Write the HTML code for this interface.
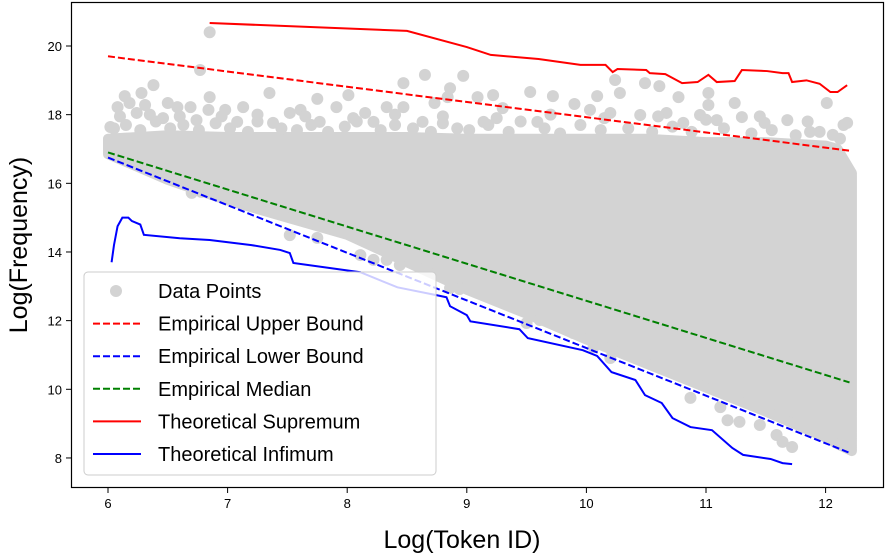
<!DOCTYPE html>
<html><head><meta charset="utf-8"><style>
body{margin:0;background:#fff;}
svg{display:block;font-family:"Liberation Sans",sans-serif;}
</style></head><body>
<svg id="chart" width="888" height="556">
<g id="plot"></g>
</svg>
<script>
const xTicks=[6,7,8,9,10,11,12];
const yTicks=[8,10,12,14,16,18,20];
// dense cloud envelope
const denseX=[6,6.5,7,7.5,8,8.5,9,9.5,10,10.5,11,11.5,12,12.1,12.22];
const denseTop=[17.3,17.4,17.35,17.35,17.35,17.35,17.3,17.3,17.3,17.3,17.2,17.2,17.1,17.0,16.3];
const denseBot=[16.85,16.1,15.5,15.0,14.5,13.7,12.9,12.2,11.45,10.75,10.05,9.35,8.6,8.4,8.2];
// outlier points
const outX=[6.85,6.02,6.08,6.14,6.18,6.28,6.31,6.38,6.24,6.5,6.58,6.69,6.77,6.85,6.84,6.98,7.13,7.35,7.52,7.61,7.75,7.91,8.01,8.15,8.33,8.47,8.47,8.65,8.73,8.86,8.97,8.84,9.09,9.22,9.3,9.53,9.72,9.9,9.59,9.14,8.63,8.22,7.77,7.38,7.08,6.74,6.46,
10.24,10.49,10.61,10.28,10.09,10.77,11.02,11.02,10.95,11.09,11.24,11.3,11.49,11.68,12.01,12.18,10.03,10.2,10.45,10.67,10.81,11.87,12.06,
7.52,7.75,8.11,8.22,8.33,8.44,8.86,8.94,9.09,9.28,9.5,9.61,9.89,10.06,10.2,10.87,11.12,11.28,11.45,11.59,11.64,11.72,11.18,6.7,6.78,
6.05,6.15,6.27,6.4,6.52,6.63,6.76,6.9,7.02,7.17,7.25,7.45,7.58,7.7,7.84,7.98,8.08,8.28,8.4,8.55,8.7,8.8,8.92,9.02,9.18,9.35,9.45,9.65,9.78,9.95,10.12,10.35,10.55,10.72,10.88,11.15,11.38,11.55,11.75,11.95,12.12,
6.1,6.35,6.6,6.95,7.25,7.65,8.05,8.4,8.8,9.25,9.7,10.15,10.6,11.0,11.45,11.85,12.15];
const outY=[20.4,17.64,18.22,18.54,18.34,18.63,18.28,18.86,18.05,18.34,18.22,18.22,19.3,18.51,18.14,18.14,18.22,18.63,18.05,18.14,18.46,18.22,18.57,18.05,18.22,18.92,18.22,19.16,18.34,18.77,19.13,18.51,18.51,18.57,18.19,18.66,18.54,18.31,17.79,17.79,17.79,17.79,17.79,17.76,17.79,17.84,17.9,
19.01,18.92,18.83,18.63,18.54,18.51,18.63,18.28,17.99,17.84,18.34,17.93,17.76,17.84,18.34,17.76,18.14,18.05,17.99,18.05,17.76,17.5,17.41,
14.49,14.41,13.91,13.77,13.77,13.62,12.95,12.92,12.81,12.66,11.93,12.02,11.64,11.23,10.91,9.75,9.48,9.05,8.96,8.67,8.47,8.32,9.1,15.72,15.75,
17.6,17.7,17.55,17.8,17.6,17.7,17.55,17.75,17.6,17.5,17.8,17.6,17.55,17.7,17.5,17.65,17.8,17.55,17.7,17.6,17.5,17.75,17.6,17.55,17.7,17.5,17.8,17.6,17.45,17.7,17.55,17.6,17.5,17.65,17.5,17.6,17.45,17.55,17.4,17.5,17.3,
17.95,18.0,17.95,17.95,18.0,17.95,17.9,18.0,17.95,17.9,18.0,17.9,17.95,17.85,17.95,17.8,17.7];
const upX=[6,12.2], upY=[19.7,16.95];
const loX=[6,12.2], loY=[16.75,8.15];
const mdX=[6,12.2], mdY=[16.9,10.2];
const supX=[6.85,8.5,9.0,9.2,9.6,9.95,10.16,10.22,10.26,10.5,10.53,10.66,10.8,10.93,11.02,11.09,11.24,11.3,11.51,11.64,11.69,11.72,11.84,11.95,12.04,12.1,12.18];
const supY=[20.67,20.44,19.97,19.74,19.62,19.45,19.45,19.24,19.33,19.3,19.21,19.18,18.92,18.95,19.16,18.95,18.98,19.3,19.27,19.21,19.21,18.95,19.0,18.9,18.66,18.66,18.86];
const infX=[6.03,6.05,6.08,6.12,6.17,6.2,6.27,6.3,6.6,6.85,7.2,7.44,7.52,7.55,8.11,8.42,8.75,8.83,8.86,9.0,9.03,9.44,9.51,9.97,10.09,10.21,10.41,10.49,10.63,10.72,10.87,11.05,11.22,11.31,11.54,11.64,11.72];
const infY=[13.7,14.2,14.75,15.0,15.0,14.9,14.8,14.5,14.4,14.35,14.2,14.06,13.97,13.68,13.41,12.97,12.74,12.68,12.42,12.16,11.98,11.75,11.49,11.14,10.97,10.5,10.27,9.83,9.6,9.16,8.9,8.81,8.29,8.09,7.97,7.85,7.82];

const X=v=>108+(v-6)*119.6;
const Y=v=>46+(20-v)*34.33;
const NS="http://www.w3.org/2000/svg";
const svg=document.getElementById('chart'), plot=document.getElementById('plot');
function mk(t,a,p){const e=document.createElementNS(NS,t);for(const k in a)e.setAttribute(k,a[k]);(p||svg).appendChild(e);return e;}

let pts=denseX.map((x,i)=>X(x)+','+Y(denseTop[i]));
for(let i=denseX.length-1;i>=0;i--)pts.push(X(denseX[i])+','+Y(denseBot[i]));
const poly=mk('polygon',{points:pts.join(' '),fill:'#d3d3d3',stroke:'#d3d3d3','stroke-width':10,'stroke-linejoin':'round'},plot);


outX.forEach((x,i)=>{
  const c=mk('circle',{cx:X(x),cy:Y(outY[i]),r:6,fill:'#d3d3d3'},plot);
  
  
});
function line(xs,ys,color,dash,name){
  const l=mk('polyline',{points:xs.map((x,i)=>X(x)+','+Y(ys[i])).join(' '),fill:'none',stroke:color,'stroke-width':2,'stroke-dasharray':dash||'none'},plot);
  
  
}
line(upX,upY,'#ff0000','7,3','empirical-upper-bound');
line(loX,loY,'#0000ff','7,3','empirical-lower-bound');
line(mdX,mdY,'#008000','7,3','empirical-median');
line(supX,supY,'#ff0000',null,'theoretical-supremum');
line(infX,infY,'#0000ff',null,'theoretical-infimum');

const fr=mk('rect',{x:71.5,y:2.5,width:812,height:485,fill:'none',stroke:'#000','stroke-width':1.2});


xTicks.forEach(t=>{
  mk('line',{x1:X(t),x2:X(t),y1:488,y2:493,stroke:'#000'});
  const tx=mk('text',{x:X(t),y:508,'font-size':13,'text-anchor':'middle'});tx.textContent=t;
  
  
});
yTicks.forEach(t=>{
  mk('line',{x1:66,x2:71,y1:Y(t),y2:Y(t),stroke:'#000'});
  const tx=mk('text',{x:62,y:Y(t)+5,'font-size':13,'text-anchor':'end'});tx.textContent=t;
  
  
});
const xt=mk('text',{x:462,y:548,'font-size':25,'text-anchor':'middle'});xt.textContent='Log(Token ID)';


const yt=mk('text',{x:0,y:0,'font-size':25,'text-anchor':'middle',transform:'translate(27,245) rotate(-90)'});yt.textContent='Log(Frequency)';



const lg=mk('g',{});


mk('rect',{x:84,y:272,width:352,height:203,rx:4,fill:'#fff','fill-opacity':0.8,stroke:'#ccc'},lg);
const entries=[['Data Points','#d3d3d3','dot'],['Empirical Upper Bound','#ff0000','7,3'],['Empirical Lower Bound','#0000ff','7,3'],['Empirical Median','#008000','7,3'],['Theoretical Supremum','#ff0000',''],['Theoretical Infimum','#0000ff','']];
entries.forEach((e,i)=>{
  const y=291+i*32.6;
  const g=mk('g',{},lg);
  
  
  if(e[2]==='dot')mk('circle',{cx:116,cy:y,r:6,fill:e[1]},g);
  else mk('line',{x1:93,x2:141,y1:y,y2:y,stroke:e[1],'stroke-width':2,'stroke-dasharray':e[2]||'none'},g);
  const t=mk('text',{x:158,y:y+7,'font-size':20},g);t.textContent=e[0];
});
</script>
</body></html>
